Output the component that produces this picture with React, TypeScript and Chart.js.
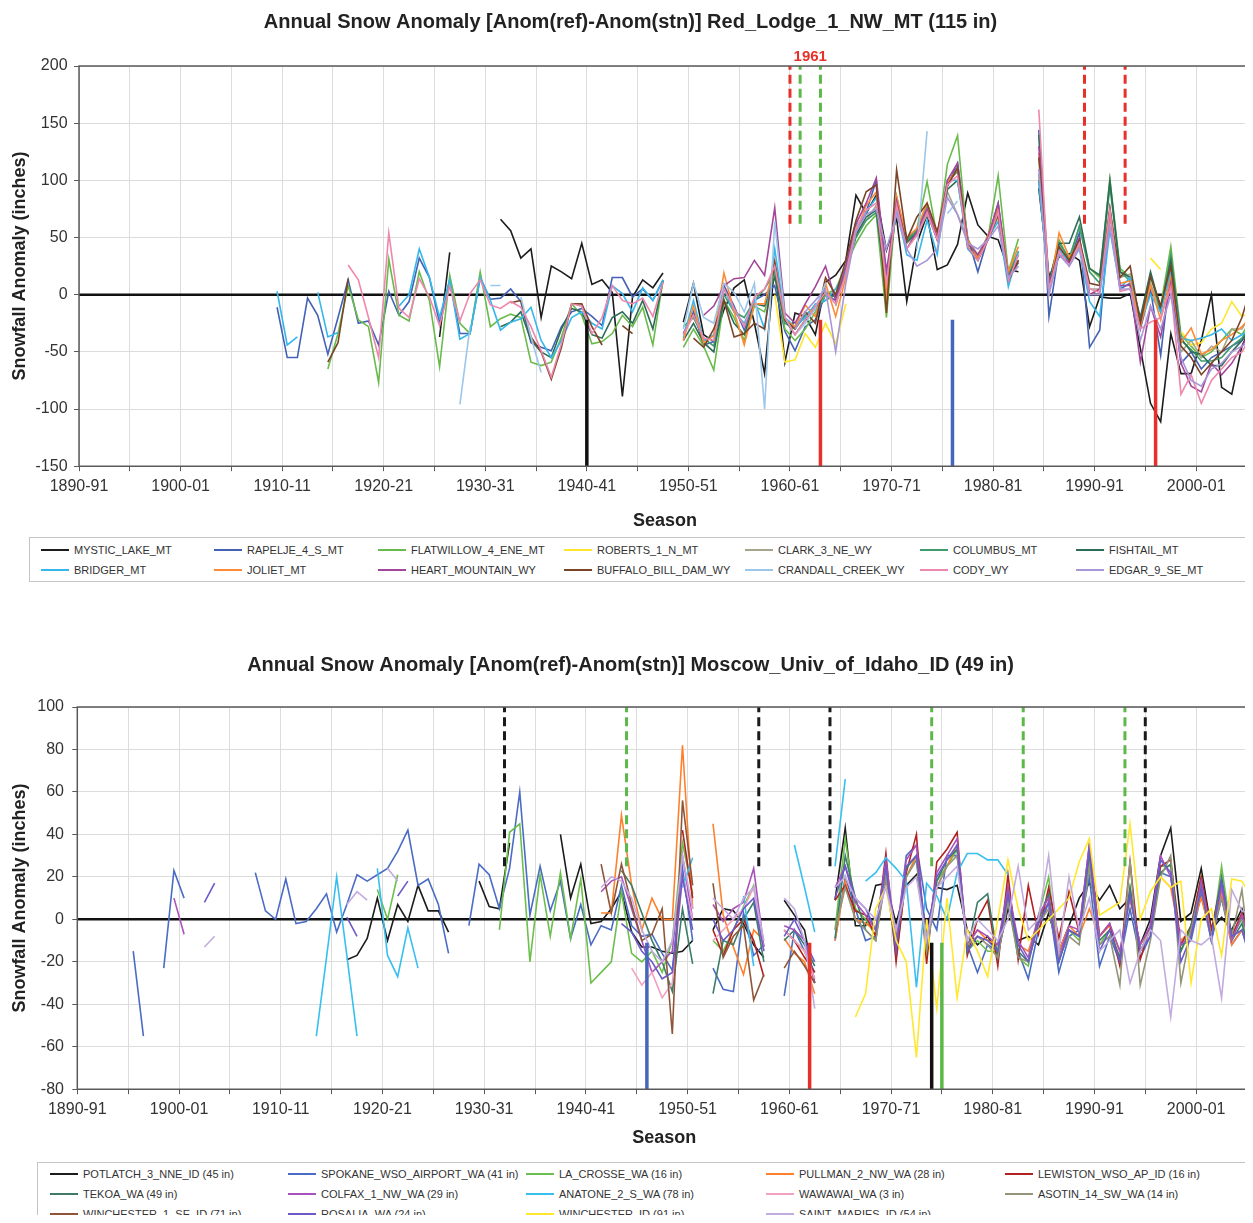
import React, { useEffect, useRef } from 'react';
import { Chart, registerables } from 'chart.js';

Chart.register(...registerables);

const FONT = "'Liberation Sans', Arial, Helvetica, sans-serif";
const _ = null;
const gap = (n: number) => Array(n).fill(null);

// ================= TOP CHART : Red_Lodge_1_NW_MT =================
const TOP_TITLE = 'Annual Snow Anomaly [Anom(ref)-Anom(stn)] Red_Lodge_1_NW_MT (115 in)';
const TOP_NAMES = [
  'MYSTIC_LAKE_MT', 'RAPELJE_4_S_MT', 'FLATWILLOW_4_ENE_MT', 'ROBERTS_1_N_MT', 'CLARK_3_NE_WY', 'COLUMBUS_MT', 'FISHTAIL_MT',
  'BRIDGER_MT', 'JOLIET_MT', 'HEART_MOUNTAIN_WY', 'BUFFALO_BILL_DAM_WY', 'CRANDALL_CREEK_WY', 'CODY_WY', 'EDGAR_9_SE_MT',
];
const TOP_COLORS = [
  '#1c1c1c', '#4361b5', '#68bb4a', '#ffe52c', '#a5a58b', '#3f9c6c', '#2d6c57',
  '#35b7ec', '#ff8a35', '#a2479b', '#7a4427', '#9cc6ea', '#ee87ad', '#a996d6',
];
// x position (season mid-point) of the first value of each series
const TOP_STARTS = [1925.5, 1909.5, 1914.5, 1958.5, 1964.5, 1949.5, 1931.5, 1909.5, 1949.5, 1951.5, 1914.5, 1927.5, 1916.5, 1960.5];

const MYSTIC_LAKE_MT = [-37, 37, _, _, _, _, 66, 56, 32, 40, -20, 25, 20, 14, 45, 9, 13, 2, -89, -2, 13, 6, 19, _, -24, 10, -35, -41, -13, 6, 13, -25, -69, 27, -59, -16, -19, -35, 11, 17, 30, 87, 71, 87, 39, 67, -6, 45, 70, 22, 26, 44, 89, 61, 51, 48, 22, 20, _, 93, 16, 33, 36, 30, -28, -2, -3, -3, 1, -47, -95, -111, -34, -69, -69, -40, 0, -81, -87, -45, -25];
const RAPELJE_4_S_MT = [-11, -55, -55, -3, -18, -52, -20, 13, -25, -23, -44, 3, -18, -6, 32, 15, -25, 13, -34, -34, 15, -4, -3, 5, -6, -42, -46, -49, -28, -15, -12, -19, -27, 15, 15, -2, 5, -5, 13, _, -34, -15, -44, -41, 8, -10, -31, -5, 0, 8, -32, -49, -28, -22, 0, -5, 20, 55, 72, 100, 5, 80, 50, 55, 72, 48, 95, 115, 50, 20, 50, 80, 15, 28, _, 144, -19, 40, 30, 54, -46, -31, 74, 5, 10, -30, 5, -53, 23, -60, -50, -65, -55, -50, -45, -40, -25];
const FLATWILLOW_4_ENE_MT = [-65, -34, 8, -22, -28, -77, 31, -18, -23, 20, -5, -63, 17, -25, -34, 20, -28, -21, -17, -20, -59, -62, -59, -37, -8, -18, -43, -41, -34, -18, -28, -11, -44, 13, _, -46, -30, -45, -66, -5, -20, -40, -10, -15, 20, -30, -40, -30, -15, 0, 5, 25, 45, 60, 70, -20, 86, 45, 58, 99, 50, 114, 139, 45, 35, 50, 104, 20, 49, _, 106, 10, 48, 30, 60, 23, 15, 101, 23, 15, -25, 15, -10, 42, -35, -45, -55, -50, -40, -30, -35, -20];
const ROBERTS_1_N_MT = [0, -59, -57, -34, -46, -25, -43, -8, ...gap(29), 32, 22, _, -32, -44, -42, -30, -25, -6, -19, -15];
const CLARK_3_NE_WY = [-10, 20, 55, 65, 78, 10, 75, 45, 52, 70, 50, 90, 70, 48, 35, 48, 68, 15, 30, _, 105, 8, 42, 28, 42, 5, 5, 70, 15, 18, -25, 10, -15, 20, -50, -40, -55, -45, -50, -30, -30, -15];
const COLUMBUS_MT = [-28, -20, -38, -45, 0, -15, -20, -5, 5, 20, -25, -30, -18, -10, -5, 0, 22, 50, 65, 72, 0, 78, 48, 56, 78, 52, 98, 108, 48, 33, 52, 75, 18, 38, _, 100, 5, 45, 32, 60, 20, 10, 95, 20, 12, -22, 18, -15, 35, -40, -48, -58, -58, -55, -45, -38, -25];
const FISHTAIL_MT = [-28, -24, -15, -40, -50, -55, -30, -12, -15, -35, -38, -20, -15, -25, -5, -30, 12, _, -40, -25, -42, -50, -5, -25, -35, -8, -10, 15, -22, -35, -22, -12, 2, -2, 18, 52, 68, 74, 5, 80, 46, 54, 74, 48, 92, 100, 46, 32, 50, 72, 15, 35, _, 140, 12, 45, 45, 68, 23, 17, 100, 20, 15, -20, 20, -12, 30, -38, -50, -52, -62, -62, -50, -40, -28];
const BRIDGER_MT = [3, -44, -37, _, 2, -37, -33, _, _, _, _, _, -10, 0, 40, 15, -20, 13, -39, -34, 15, -5, -31, -24, -21, -11, -40, -55, -40, -20, -15, -25, -30, 8, 1, -15, 6, -5, 13, _, -38, -5, -40, -35, 5, -15, -25, -5, -30, 40, -20, -28, -20, -8, -5, 5, 20, 60, 72, 85, 15, 75, 35, 30, 65, 35, 100, 100, 40, 30, 50, 64, 7, 38, _, 98, 8, 40, 28, 40, -6, -19, 57, 6, 15, -25, 0, -15, 20, -38, -40, -38, -35, -30, -40, -35, -30];
const JOLIET_MT = [-40, -10, -42, -36, 19, -15, -44, -8, -8, 27, -22, -28, -9, -19, 10, -19, 15, 55, 78, 90, 0, 86, 50, 58, 80, 52, 98, 110, 48, 32, 52, 76, 20, 42, _, 124, 1, 54, 33, 44, 0, 5, 70, 10, 12, -28, 8, -22, 15, -42, -29, -52, -48, -40, -35, -28, -18];
const HEART_MOUNTAIN_WY = [-18, -10, 8, 14, 15, 30, 17, 76, -16, -25, -8, 7, 25, -5, 25, 62, 80, 102, 20, 82, 40, 55, 75, 50, 100, 115, 45, 35, 50, 80, 15, 30, _, 130, 10, 35, 28, 50, 0, 5, 74, 8, 8, -59, -10, -37, 10, -60, -80, -85, -60, -70, -60, -45, -30];
const BUFFALO_BILL_DAM_WY = [-59, -42, 14, ...gap(15), -7, -5, -37, -50, -74, -46, -8, -8, -28, -44, _, -27, -34, ...gap(5), -38, -46, -30, -5, -37, -34, -25, -30, 29, -22, -30, -15, -25, 15, 0, 30, 65, 90, 96, -16, 109, 48, 68, 80, 55, 95, 111, 42, 30, 48, 70, 12, 30, _, 120, 5, 42, 30, 48, 10, 8, 76, 15, 25, -25, 16, -10, 25, -45, -55, -70, -60, -50, -40, -20, 10];
const CRANDALL_CREEK_WY = [-96, -28, _, 8, 8, _, -2, -37, -68, ...gap(13), -30, 10, -20, -25, 10, 2, -15, 10, -100, 64, -20, -35, -25, -12, 10, ...gap(8), 40, 143, _, 71, 82];
const CODY_WY = [26, 13, -20, -55, 54, -12, -20, 14, -2, -27, 7, -23, 1, 13, -9, -12, -6, -11, -28, -49, -72, -43, -8, -10, -34, -20, 8, -5, -8, -3, -19, 11, _, -35, -18, -38, -40, 5, -12, -28, -2, 5, 25, -20, -35, -22, -10, 2, -8, 18, 58, 74, 80, 10, 78, 40, 52, 72, 48, 96, 104, 42, 30, 48, 72, 12, 35, _, 162, 5, 38, 25, 45, 5, 2, 74, 3, 5, -30, -24, -20, 7, -87, -70, -95, -75, -65, -55, -50, -35];
const EDGAR_9_SE_MT = [-30, -15, -5, 5, -50, 10, 55, 70, 75, 40, 70, 40, 25, 30, 40, 85, 70, 45, 40, 48, 60, 15, 25, _, 110, 0, 35, 25, 40, 0, 0, 60, 5, 5, -40, -10, -30, 0, -55, -75, -80, -65, -60, -50, -45, -40];

const TOP_SERIES = [
  MYSTIC_LAKE_MT, RAPELJE_4_S_MT, FLATWILLOW_4_ENE_MT, ROBERTS_1_N_MT, CLARK_3_NE_WY, COLUMBUS_MT, FISHTAIL_MT,
  BRIDGER_MT, JOLIET_MT, HEART_MOUNTAIN_WY, BUFFALO_BILL_DAM_WY, CRANDALL_CREEK_WY, CODY_WY, EDGAR_9_SE_MT,
];
const TOP_Y_TICKS = { min: -150, max: 200, step: 50 };
const TOP_DASH_YEARS = [1960, 1961, 1963, 1989, 1993];
const TOP_DASH_COLORS = ['#e8302a', '#5cb848', '#5cb848', '#e8302a', '#e8302a'];
const TOP_DASH_RANGE: [number, number] = [62, 200];
const TOP_BAR_YEARS = [1940, 1963, 1976, 1996];
const TOP_BAR_COLORS = ['#111111', '#e8302a', '#4466bb', '#e8302a'];
const TOP_BAR_RANGE: [number, number] = [-22, -150];
const TOP_NOTE = { text: '1961', x: 1962, color: '#e8302a' };

// ================= BOTTOM CHART : Moscow_Univ_of_Idaho_ID =================
const BOT_TITLE = 'Annual Snow Anomaly [Anom(ref)-Anom(stn)] Moscow_Univ_of_Idaho_ID (49 in)';
const BOT_NAMES = [
  'POTLATCH_3_NNE_ID (45 in)', 'SPOKANE_WSO_AIRPORT_WA (41 in)', 'LA_CROSSE_WA (16 in)', 'PULLMAN_2_NW_WA (28 in)', 'LEWISTON_WSO_AP_ID (16 in)',
  'TEKOA_WA (49 in)', 'COLFAX_1_NW_WA (29 in)', 'ANATONE_2_S_WA (78 in)', 'WAWAWAI_WA (3 in)', 'ASOTIN_14_SW_WA (14 in)',
  'WINCHESTER_1_SE_ID (71 in)', 'ROSALIA_WA (24 in)', 'WINCHESTER_ID (91 in)', 'SAINT_MARIES_ID (54 in)',
];
const BOT_COLORS = [
  '#1c1c1c', '#4a6cc4', '#6cbf4c', '#ff802c', '#b0211f',
  '#3d7c68', '#a952bb', '#38bff0', '#f3a1c2', '#949479',
  '#8e5538', '#6b5bc9', '#ffe82e', '#c2acdf',
];
const BOT_STARTS = [1916.5, 1895.5, 1919.5, 1941.5, 1949.5, 1943.5, 1899.5, 1913.5, 1944.5, 1964.5, 1941.5, 1902.5, 1966.5, 1902.5];

const POTLATCH_3_NNE_ID = [-19, -17, -9, 10, -10, 7, -1, 16, 4, 4, -6, _, _, 18, 6, 5, 36, _, _, _, _, 40, 10, 26, -2, -1, 5, 13, -6, -13, -13, -15, -16, -15, -10, _, -5, 5, 4, -2, -12, -18, _, 9, 2, -5, -30, _, 9, 43, -3, -3, 16, 17, -2, 16, 21, -5, 15, 14, 16, -5, -12, -8, -16, 5, -10, -8, -12, 3, -15, -3, 10, 17, 9, 16, 5, 10, -12, 0, 30, 43, -1, 3, 24, -5, 1, -5, 5, -10];
const SPOKANE_WSO_AIRPORT_WA = [-15, -55, _, -23, 23, 10, ...gap(6), 22, 4, 0, 19, -2, -1, 5, 12, -6, 7, 21, 18, 21, 24, 32, 42, 16, 19, 7, -16, _, -3, 26, 21, 5, 24, 60, 2, 25, 4, 18, -9, 7, -12, -3, -5, 16, -3, -8, -7, -16, -24, 24, -10, _, -23, -33, -34, 3, -17, -12, _, -36, -5, -15, -25, _, -10, 20, 5, -10, -8, 20, -10, 30, 35, 5, -5, 30, 30, -12, -25, -12, -15, 15, -15, -28, -5, 8, -25, -8, -5, 20, -22, -8, -20, 5, -18, -8, 22, 20, -12, -10, 12, -10, 10, -12, -5, -22];
const LA_CROSSE_WA = [14, 0, 21, ...gap(9), -5, 41, 45, -20, 21, -8, 22, -9, 19, -30, -25, -20, 13, -16, -20, -15, -25, -10, 36, 12, _, -10, -15, -5, 6, 16, -13, _, -5, -10, -15, -28, _, -5, 38, 5, 0, -8, 22, -18, 20, 28, -14, 18, 25, 33, -15, -10, -15, -15, 10, -18, -22, 2, 20, -20, -5, -10, 28, -12, -5, -20, 15, -15, -5, 25, 25, -15, -5, 20, -10, 25, -8, 0, -20];
const PULLMAN_2_NW_WA = [3, 3, 49, 16, -5, 10, 0, 0, 82, 5, _, 45, 2, -13, -26, -5, -10, _, -9, -16, -20, -35, _, -10, 18, 0, -2, -5, 20, -15, 20, 30, -12, 15, 25, 35, -12, -5, -10, -12, 12, -12, -15, 0, 8, -15, -3, -8, 5, -8, -3, -15, 10, -12, -5, 20, 15, -10, -5, 10, -8, 12, -12, -5, -18];
const LEWISTON_WSO_AP_ID = [42, 10, _, -5, -17, -5, 0, -10, -27, _, -5, -10, -18, -25, _, 9, 16, 4, 2, -8, 31, -20, 22, 40, -21, 27, 33, 41, -17, 0, 9, -22, 21, -19, 16, -7, 15, -9, 13, -6, 35, -8, -2, -22, 27, -19, -3, 25, 28, -12, -3, 20, -5, 18, -8, 3, -15];
const TEKOA_WA = [23, 16, 3, -10, -20, -34, 5, -21, _, -35, -10, -12, 0, 8, -20, _, -10, -5, -12, -22, _, -9, 30, 10, -5, -10, 25, -12, 24, 30, -15, 18, 28, 33, -15, 8, 12, -18, 10, -15, -20, 0, 12, -20, -5, -8, 30, -10, -5, -18, 15, -15, -5, 22, 26, -15, -3, 16, -8, 20, -10, -2, -20];
const COLFAX_1_NW_WA = [10, -7, ...gap(40), 13, 18, 20, 5, -10, -25, -20, -15, 30, 0, _, 7, -1, 5, 8, 24, -13, _, -3, -5, -10, -30, _, 15, 25, 8, 2, -5, 28, -10, 28, 35, -12, 22, 30, 38, -12, -5, -8, -12, 15, -10, -18, 2, 10, -18, -3, -5, 35, -8, -2, -15, 11, -12, -3, 30, 20, -12, -8, 18, -8, 15, -10, 2, -15];
const ANATONE_2_S_WA = [-55, -18, 20, -17, -55, _, 24, -17, -27, -4, -23, ...gap(25), 15, 29, _, _, _, _, 11, -22, _, _, _, 35, 15, -6, _, 25, 66, _, 18, 22, 29, 24, 18, -32, 17, 11, 0, 22, 31, 31, 28, 28, 21];
const WAWAWAI_WA = [-23, -31, -25, -37, -30, 20, 0, _, -10, -5, 0, 5, 15, -15, _, -5, -10, -15, -28];
const ASOTIN_14_SW_WA = [-5, 15, 0, -5, -10, 20, -12, 20, 28, -15, 15, 25, 30, -12, -8, -12, -18, 8, -18, -20, -2, 5, -18, -8, -12, 25, -12, -8, -31, 28, -31, -10, 20, 30, -30, -5, 15, -8, 10, -8, 14, -27];
const WINCHESTER_1_SE_ID = [26, 3, 26, 7, -10, -7, 5, -54, 56, 16, _, 17, -18, -8, -3, -38, -26, _, -23, -15, -22, -30];
const ROSALIA_WA = [8, 17, ...gap(12), 1, -8, _, _, _, 11, 18, ...gap(20), -2, -6, -15, -20, -28, -25, 20, -5, _, 0, -10, -5, 5, 10, -15, _, -8, 0, -10, -20, _, 10, 25, 10, 5, -5, 25, -15, 25, 30, -10, 20, 28, 35, -15, -8, -10, -15, 12, -12, -20, -2, 8, -20, -5, -8, 33, -15, -5, -20, 12, -15, -8, 28, 22, -20, -8, 15, -10, 18, -8, -5, -20];
const WINCHESTER_ID = [-46, -35, 5, 15, -10, -20, -65, 0, -42, 10, -37, -5, -15, -27, 0, 28, 5, -10, -5, 0, 5, 10, 27, 38, 2, 5, 8, 45, 0, 13, 20, 15, 18, -30, 0, 5, -17, 19, 18, 10];
const SAINT_MARIES_ID = [-13, -8, ...gap(12), 7, 13, 9, _, 24, 18, ...gap(19), 15, 20, 18, 10, -5, -15, -20, -10, 30, 5, _, 10, 5, 0, 10, 15, -10, _, 10, 5, -10, -42, _, 15, 20, 10, 5, 0, 15, -5, 15, 20, -10, 15, 20, 25, -10, 0, -5, -10, 0, 25, -5, 0, 30, -15, 20, -5, 10, -15, -10, -5, -30, -15, -5, -10, -46, -5, -10, -12, -8, -37, 14, 4, 2];

const BOT_SERIES = [
  POTLATCH_3_NNE_ID, SPOKANE_WSO_AIRPORT_WA, LA_CROSSE_WA, PULLMAN_2_NW_WA, LEWISTON_WSO_AP_ID,
  TEKOA_WA, COLFAX_1_NW_WA, ANATONE_2_S_WA, WAWAWAI_WA, ASOTIN_14_SW_WA,
  WINCHESTER_1_SE_ID, ROSALIA_WA, WINCHESTER_ID, SAINT_MARIES_ID,
];
const BOT_Y_TICKS = { min: -80, max: 100, step: 20 };
const BOT_DASH_YEARS = [1932, 1944, 1957, 1964, 1974, 1983, 1993, 1995];
const BOT_DASH_COLORS = ['#1a1a1a', '#5cb848', '#1a1a1a', '#1a1a1a', '#5cb848', '#5cb848', '#5cb848', '#1a1a1a'];
const BOT_DASH_RANGE: [number, number] = [25, 100];
const BOT_BAR_YEARS = [1946, 1962, 1974, 1975];
const BOT_BAR_COLORS = ['#4466bb', '#e8302a', '#111111', '#5cb848'];
const BOT_BAR_RANGE: [number, number] = [-11, -80];

const X_MIN = 1890;
const X_MAX = 2005.4;

type Spec = {
  title: string;
  names: string[];
  colors: string[];
  starts: number[];
  series: (number | null)[][];
  yTicks: { min: number; max: number; step: number };
  dashYears: number[];
  dashColors: string[];
  dashRange: [number, number];
  barYears: number[];
  barColors: string[];
  barRange: [number, number];
  note?: { text: string; x: number; color: string };
  titlePad: { top: number; bottom: number };
  xTitlePad: { top: number; bottom: number };
  yTickPad: number;
  height: number;
};

function seasonLabel(v: number) {
  return `${v}-${String((v + 1) % 100).padStart(2, '0')}`;
}

function buildConfig(spec: Spec): any {
  const n = spec.series.length;
  const lines = spec.series.map((vals, i) => ({
    type: 'line',
    label: spec.names[i],
    data: vals.map((v, k) => ({ x: spec.starts[i] + k, y: v })),
    borderColor: spec.colors[i],
    backgroundColor: spec.colors[i],
    borderWidth: 1.6,
    pointRadius: 0,
    pointHoverRadius: 0,
    tension: 0,
    spanGaps: false,
    fill: false,
    order: 10 + (n - i),
  }));
  const dashes = spec.dashYears.map((yr, j) => ({
    type: 'line',
    label: 'dash' + j,
    data: [{ x: yr, y: spec.dashRange[0] }, { x: yr, y: spec.dashRange[1] }],
    borderColor: spec.dashColors[j],
    borderWidth: 3,
    borderDash: [9, 5],
    pointRadius: 0,
    fill: false,
    order: 1,
  }));
  const bars = spec.barYears.map((yr, j) => ({
    type: 'line',
    label: 'bar' + j,
    data: [{ x: yr, y: spec.barRange[0] }, { x: yr, y: spec.barRange[1] }],
    borderColor: spec.barColors[j],
    borderWidth: 3.5,
    pointRadius: 0,
    fill: false,
    order: 0,
  }));

  const decor = {
    id: 'decor',
    beforeDatasetsDraw(chart: any) {
      const { ctx, chartArea: a, scales } = chart;
      const y0 = scales.y.getPixelForValue(0);
      ctx.save();
      ctx.strokeStyle = '#111';
      ctx.lineWidth = 2.5;
      ctx.beginPath();
      ctx.moveTo(a.left, y0);
      ctx.lineTo(a.right, y0);
      ctx.stroke();
      ctx.restore();
    },
    afterDatasetsDraw(chart: any) {
      const { ctx, chartArea: a, scales } = chart;
      ctx.save();
      ctx.strokeStyle = '#5a5a5a';
      ctx.lineWidth = 1.5;
      ctx.beginPath();
      ctx.moveTo(a.right + 5, a.top);
      ctx.lineTo(a.left, a.top);
      ctx.lineTo(a.left, a.bottom);
      ctx.lineTo(a.right + 5, a.bottom);
      ctx.stroke();
      if (spec.note) {
        ctx.fillStyle = spec.note.color;
        ctx.font = `bold 15px ${FONT}`;
        ctx.textAlign = 'center';
        ctx.textBaseline = 'middle';
        ctx.fillText(spec.note.text, scales.x.getPixelForValue(spec.note.x), a.top - 9);
      }
      ctx.restore();
    },
  };

  return {
    type: 'line',
    data: { datasets: [...lines, ...dashes, ...bars] },
    plugins: [decor],
    options: {
      responsive: false,
      animation: false,
      events: [],
      layout: { padding: 0 },
      plugins: {
        legend: { display: false },
        tooltip: { enabled: false },
        title: {
          display: true,
          text: spec.title,
          color: '#222',
          font: { size: 20, weight: 'bold', family: FONT },
          padding: spec.titlePad,
        },
      },
      scales: {
        x: {
          type: 'linear',
          min: X_MIN,
          max: X_MAX,
          ticks: {
            stepSize: 5,
            autoSkip: false,
            includeBounds: false,
            maxRotation: 0,
            minRotation: 0,
            padding: 6,
            color: '#333',
            font: { size: 16, family: FONT },
            callback: (v: number) => (Math.round(v) % 10 === 0 ? seasonLabel(Math.round(v)) : ''),
          },
          grid: { color: '#dcdcdc', lineWidth: 1, tickLength: 5, tickColor: '#5a5a5a', drawTicks: true },
          border: { display: false },
          title: {
            display: true,
            text: 'Season',
            color: '#222',
            font: { size: 18, weight: 'bold', family: FONT },
            padding: spec.xTitlePad,
          },
        },
        y: {
          min: spec.yTicks.min,
          max: spec.yTicks.max,
          ticks: {
            stepSize: spec.yTicks.step,
            padding: spec.yTickPad,
            color: '#333',
            font: { size: 16, family: FONT },
          },
          grid: { color: '#dcdcdc', lineWidth: 1, tickLength: 5, tickColor: '#5a5a5a', drawTicks: true },
          border: { display: false },
          title: {
            display: true,
            text: 'Snowfall Anomaly (inches)',
            color: '#222',
            font: { size: 18, weight: 'bold', family: FONT, lineHeight: 1 },
            padding: { top: 3, bottom: 0 },
          },
        },
      },
    },
  };
}

function SnowChart({ spec, top }: { spec: Spec; top: number }) {
  const ref = useRef<HTMLCanvasElement | null>(null);
  useEffect(() => {
    if (!ref.current) return;
    const chart = new Chart(ref.current, buildConfig(spec));
    return () => chart.destroy();
  }, [spec]);
  return (
    <canvas
      ref={ref}
      width={1245}
      height={spec.height}
      style={{ position: 'absolute', left: 0, top, display: 'block', width: 1245, height: spec.height }}
    />
  );
}

function Legend({
  names, colors, cols, xs, rowYs, left, top, height,
}: {
  names: string[]; colors: string[]; cols: number; xs: number[]; rowYs: number[];
  left: number; top: number; height: number;
}) {
  return (
    <div
      style={{
        position: 'absolute', left, top, width: 1300, height,
        border: '1.5px solid #c4c4c4', boxSizing: 'border-box', background: '#fff',
      }}
    >
      {names.map((name, i) => {
        const x = xs[i % cols];
        const y = rowYs[Math.floor(i / cols)];
        return (
          <React.Fragment key={name}>
            <div style={{ position: 'absolute', left: x - 33, top: y - 1, width: 28, height: 2, background: colors[i] }} />
            <div
              style={{
                position: 'absolute', left: x, top: y - 7, fontFamily: FONT, fontSize: 11,
                lineHeight: '14px', color: '#333', whiteSpace: 'nowrap',
              }}
            >
              {name}
            </div>
          </React.Fragment>
        );
      })}
    </div>
  );
}

const TOP_SPEC: Spec = {
  title: TOP_TITLE, names: TOP_NAMES, colors: TOP_COLORS, starts: TOP_STARTS, series: TOP_SERIES,
  yTicks: TOP_Y_TICKS, dashYears: TOP_DASH_YEARS, dashColors: TOP_DASH_COLORS, dashRange: TOP_DASH_RANGE,
  barYears: TOP_BAR_YEARS, barColors: TOP_BAR_COLORS, barRange: TOP_BAR_RANGE, note: TOP_NOTE,
  titlePad: { top: 2, bottom: 32 }, xTitlePad: { top: 8, bottom: 4 }, yTickPad: 6.5, height: 528,
};

const BOT_SPEC: Spec = {
  title: BOT_TITLE, names: BOT_NAMES, colors: BOT_COLORS, starts: BOT_STARTS, series: BOT_SERIES,
  yTicks: BOT_Y_TICKS, dashYears: BOT_DASH_YEARS, dashColors: BOT_DASH_COLORS, dashRange: BOT_DASH_RANGE,
  barYears: BOT_BAR_YEARS, barColors: BOT_BAR_COLORS, barRange: BOT_BAR_RANGE,
  titlePad: { top: 13, bottom: 30 }, xTitlePad: { top: 2, bottom: 4 }, yTickPad: 8.3, height: 513,
};

export default function App() {
  useEffect(() => {
    document.documentElement.style.overflow = 'hidden';
    document.body.style.overflow = 'hidden';
  }, []);
  return (
    <div style={{ position: 'relative', width: 1245, height: 1223, overflow: 'hidden', marginBottom: -16, background: '#fff' }}>
      <SnowChart spec={TOP_SPEC} top={0} />
      <Legend
        names={TOP_NAMES} colors={TOP_COLORS} cols={7}
        xs={[44, 217, 381, 567, 748, 923, 1079]} rowYs={[12, 32]}
        left={21} top={529} height={45}
      />
      <SnowChart spec={BOT_SPEC} top={632} />
      <Legend
        names={BOT_NAMES} colors={BOT_COLORS} cols={5}
        xs={[45, 283, 521, 761, 1000]} rowYs={[11, 31, 51]}
        left={29} top={1154} height={75}
      />
    </div>
  );
}
